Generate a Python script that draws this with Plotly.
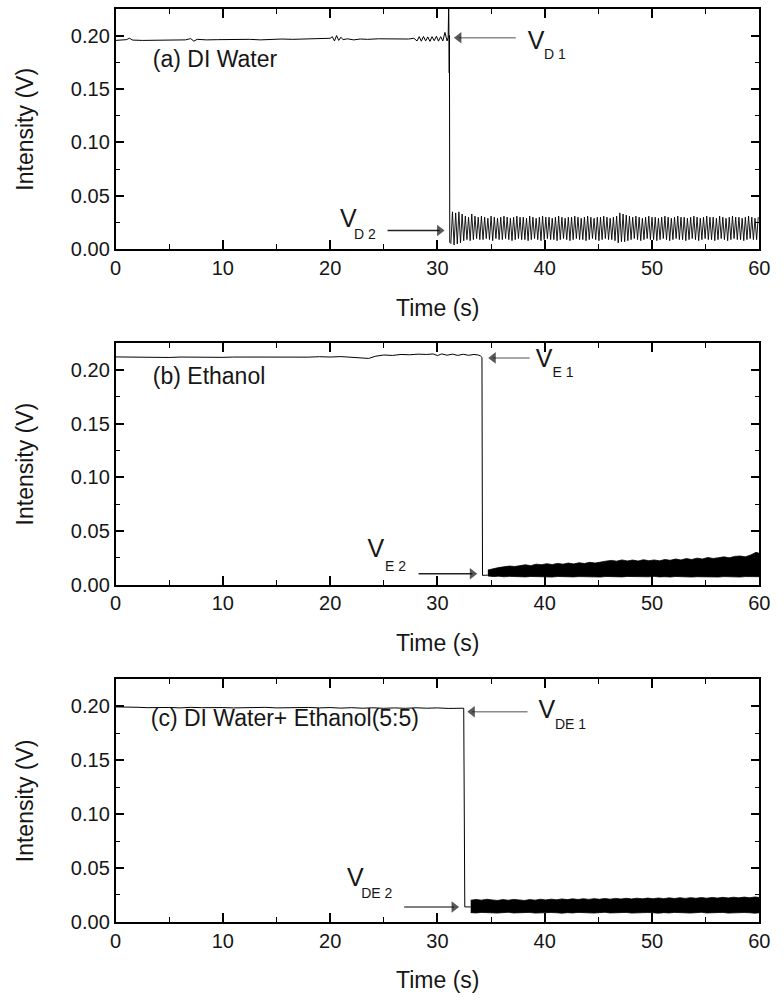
import plotly.graph_objects as go

# ---------------- data ----------------
# (a) DI Water : baseline before the drop
a_base_t = [0, 0.5, 1.0, 1.3, 1.6, 2.5, 3.5, 4.5, 5.5, 6.5, 7.0, 7.3, 7.6, 8.5, 9.5,
            10.5, 11.5, 12.5, 13.5, 14.5, 15.5, 16.5, 17.5, 18.5, 19.5, 20.0, 20.2,
            20.4, 20.6, 20.8, 21.0, 21.2, 21.6, 22.2, 22.8, 23.5, 24.5, 25.5, 26.5,
            27.3, 27.8, 28.1, 28.3, 28.5, 28.7, 28.9, 29.1, 29.3, 29.5, 29.7, 29.9,
            30.1, 30.3, 30.5, 30.7, 30.9, 31.0, 31.05, 31.1, 31.12, 31.15]
a_base_v = [0.1955, 0.1958, 0.1962, 0.1975, 0.1958, 0.1955, 0.1957, 0.1955, 0.1958,
            0.1960, 0.1972, 0.1948, 0.1965, 0.1960, 0.1962, 0.1965, 0.1962, 0.1965,
            0.1960, 0.1965, 0.1968, 0.1965, 0.1968, 0.1966, 0.1968, 0.1975, 0.1990,
            0.1950, 0.2000, 0.1955, 0.1985, 0.1962, 0.1970, 0.1960, 0.1968, 0.1965,
            0.1970, 0.1968, 0.1970, 0.1968, 0.1975, 0.1950, 0.1990, 0.1948, 0.1992,
            0.1950, 0.1988, 0.1946, 0.1990, 0.1952, 0.1994, 0.1948, 0.1990, 0.1950,
            0.2030, 0.1950, 0.1985, 0.2300, 0.1650, 0.2000, 0.0060]
# (a) oscillation after the drop: successive troughs and peaks
a_osc_low = [0.005, 0.004, 0.005, 0.006, 0.008, 0.009, 0.008, 0.009, 0.010, 0.009,
             0.009, 0.010, 0.009, 0.008, 0.010, 0.009, 0.009, 0.010, 0.009, 0.008,
             0.009, 0.010, 0.009, 0.009, 0.008, 0.009, 0.010, 0.009, 0.008, 0.009,
             0.010, 0.009, 0.009, 0.008, 0.009, 0.010, 0.009, 0.008, 0.009, 0.010,
             0.009, 0.009, 0.008, 0.009, 0.010, 0.009, 0.008, 0.009, 0.010, 0.009,
             0.009, 0.008, 0.006, 0.007, 0.007, 0.008, 0.009, 0.010, 0.009, 0.008,
             0.009, 0.010, 0.009, 0.009, 0.008, 0.009, 0.010, 0.009, 0.008, 0.009,
             0.010, 0.009, 0.009, 0.008, 0.009, 0.010, 0.009, 0.008, 0.009, 0.010,
             0.009, 0.009, 0.008, 0.009, 0.010, 0.009, 0.008, 0.009, 0.010, 0.009,
             0.009, 0.008, 0.009, 0.010, 0.009, 0.009]
a_osc_high = [0.035, 0.034, 0.035, 0.033, 0.031, 0.030, 0.033, 0.031, 0.030, 0.031,
              0.030, 0.029, 0.031, 0.030, 0.029, 0.030, 0.031, 0.030, 0.029, 0.030,
              0.031, 0.030, 0.030, 0.029, 0.031, 0.030, 0.029, 0.030, 0.031, 0.030,
              0.030, 0.029, 0.030, 0.031, 0.030, 0.029, 0.030, 0.030, 0.031, 0.030,
              0.029, 0.030, 0.031, 0.030, 0.029, 0.030, 0.030, 0.031, 0.030, 0.029,
              0.030, 0.031, 0.034, 0.033, 0.032, 0.031, 0.030, 0.031, 0.030, 0.029,
              0.030, 0.031, 0.030, 0.030, 0.029, 0.030, 0.031, 0.030, 0.029, 0.030,
              0.031, 0.030, 0.030, 0.029, 0.030, 0.031, 0.030, 0.029, 0.030, 0.031,
              0.030, 0.030, 0.029, 0.031, 0.030, 0.029, 0.030, 0.031, 0.030, 0.030,
              0.029, 0.030, 0.031, 0.030, 0.029, 0.030]

# (b) Ethanol
b_base_t = [0, 1, 2, 3, 4, 5, 6, 7, 8, 9, 10, 11, 12, 13, 14, 15, 16, 17, 18, 19, 20,
            21, 22, 23, 23.6, 24.2, 25, 25.8, 26.6, 27.4, 28.2, 29, 29.6, 30.0, 30.4,
            30.9, 31.4, 31.9, 32.4, 32.9, 33.4, 33.8, 34.0, 34.15, 34.2, 34.7]
b_base_v = [0.2122, 0.2120, 0.2118, 0.2122, 0.2120, 0.2117, 0.2121, 0.2119, 0.2122,
            0.2120, 0.2118, 0.2121, 0.2120, 0.2123, 0.2119, 0.2121, 0.2118, 0.2122,
            0.2120, 0.2124, 0.2121, 0.2125, 0.2118, 0.2112, 0.2108, 0.2128, 0.2140,
            0.2136, 0.2145, 0.2142, 0.2148, 0.2145, 0.2150, 0.2135, 0.2150, 0.2138,
            0.2148, 0.2136, 0.2147, 0.2137, 0.2145, 0.2140, 0.2132, 0.2118, 0.0085,
            0.0088]
b_band_high = [0.0135, 0.0150, 0.0158, 0.0165, 0.0172, 0.0168, 0.0178, 0.0184, 0.0176,
               0.0190, 0.0185, 0.0194, 0.0186, 0.0197, 0.0190, 0.0200, 0.0192, 0.0203,
               0.0196, 0.0207, 0.0200, 0.0212, 0.0218, 0.0225, 0.0218, 0.0229, 0.0220,
               0.0228, 0.0219, 0.0231, 0.0222, 0.0229, 0.0221, 0.0233, 0.0226, 0.0238,
               0.0229, 0.0242, 0.0233, 0.0246, 0.0238, 0.0252, 0.0243, 0.0250, 0.0258,
               0.0249, 0.0262, 0.0266, 0.0258, 0.0275, 0.0300, 0.0285]
b_band_low = [0.0080, 0.0074, 0.0078, 0.0072, 0.0076, 0.0073, 0.0077, 0.0071, 0.0075,
              0.0072, 0.0076, 0.0073, 0.0070, 0.0075, 0.0072, 0.0076, 0.0071, 0.0074,
              0.0072, 0.0076, 0.0073, 0.0070, 0.0075, 0.0072, 0.0074, 0.0071, 0.0075,
              0.0073, 0.0070, 0.0074, 0.0072, 0.0076, 0.0071, 0.0073, 0.0070, 0.0075,
              0.0072, 0.0074, 0.0070, 0.0073, 0.0071, 0.0075, 0.0072, 0.0070, 0.0074,
              0.0071, 0.0073, 0.0070, 0.0074, 0.0072, 0.0070, 0.0073]

# (c) DI Water + Ethanol (5:5)
c_base_t = [0, 1, 2, 3, 4, 5, 6, 7, 8, 9, 10, 11, 12, 13, 14, 15, 16, 17, 18, 19, 20,
            21, 22, 23, 24, 25, 26, 27, 28, 29, 30, 31, 32, 32.45, 32.55, 33.1]
c_base_v = [0.1995, 0.1990, 0.1992, 0.1988, 0.1992, 0.1990, 0.1986, 0.1991, 0.1988,
            0.1992, 0.1989, 0.1986, 0.1990, 0.1987, 0.1991, 0.1986, 0.1989, 0.1985,
            0.1990, 0.1986, 0.1989, 0.1984, 0.1988, 0.1983, 0.1987, 0.1982, 0.1986,
            0.1982, 0.1987, 0.1983, 0.1986, 0.1981, 0.1985, 0.1983, 0.0138, 0.0138]
c_band_high = [0.0200, 0.0207, 0.0201, 0.0209, 0.0203, 0.0198, 0.0206, 0.0200, 0.0208,
               0.0202, 0.0198, 0.0206, 0.0201, 0.0209, 0.0203, 0.0210, 0.0204, 0.0212,
               0.0206, 0.0213, 0.0207, 0.0214, 0.0208, 0.0215, 0.0209, 0.0216, 0.0210,
               0.0217, 0.0211, 0.0218, 0.0212, 0.0219, 0.0213, 0.0220, 0.0214, 0.0221,
               0.0215, 0.0222, 0.0216, 0.0223, 0.0217, 0.0224, 0.0218, 0.0225, 0.0219,
               0.0226, 0.0220, 0.0227, 0.0221, 0.0228, 0.0222, 0.0229, 0.0223, 0.0230,
               0.0224]
c_band_low = [0.0085, 0.0082, 0.0087, 0.0083, 0.0086, 0.0081, 0.0085, 0.0088, 0.0082,
              0.0086, 0.0083, 0.0087, 0.0081, 0.0085, 0.0082, 0.0086, 0.0084, 0.0080,
              0.0085, 0.0082, 0.0087, 0.0083, 0.0086, 0.0081, 0.0085, 0.0088, 0.0082,
              0.0086, 0.0083, 0.0087, 0.0081, 0.0085, 0.0082, 0.0086, 0.0084, 0.0080,
              0.0085, 0.0082, 0.0087, 0.0083, 0.0086, 0.0081, 0.0085, 0.0088, 0.0082,
              0.0086, 0.0083, 0.0087, 0.0081, 0.0085, 0.0082, 0.0086, 0.0084, 0.0080,
              0.0085]

panel_labels = ["(a) DI Water", "(b) Ethanol", "(c) DI Water+ Ethanol(5:5)"]
sub_labels = [("D 1", "D 2"), ("E 1", "E 2"), ("DE 1", "DE 2")]

# ---------------- styling / placement ----------------
W, H = 784, 1003
FONT = "Liberation Sans, Arial, sans-serif"
TXT = "#161616"
X0, X1 = 112, 770
PANELS = [(9, 252), (347, 591), (687, 932)]  # top / bottom pixel rows

# label placement per panel (axis units): panel label, V1, sub1, V2, sub2
label_pos = [
    dict(panel=(3.47, 0.176), v1=(39.2, 0.1935), s1=(40.95, 0.1815),
         v2=(21.7, 0.0268), s2=(23.25, 0.0130)),
    dict(panel=(3.47, 0.1927), v1=(39.95, 0.2084), s1=(41.7, 0.1964),
         v2=(24.25, 0.0313), s2=(26.1, 0.0157)),
    dict(panel=(3.28, 0.1873), v1=(40.2, 0.1947), s1=(42.4, 0.1818),
         v2=(22.35, 0.0386), s2=(24.35, 0.0257)),
]
# arrows per panel: (tail t, head t, value, shaft colour, head symbol)
arrow_pos = [
    [(37.3, 32.0, 0.198, "#8a8a8a", "triangle-left"),
     (25.35, 30.2, 0.0176, "#222222", "triangle-right")],
    [(38.6, 35.2, 0.2113, "#8a8a8a", "triangle-left"),
     (28.24, 33.25, 0.0101, "#222222", "triangle-right")],
    [(38.4, 33.25, 0.195, "#8a8a8a", "triangle-left"),
     (26.9, 31.55, 0.0138, "#555555", "triangle-right")],
]


def px(x):
    return x / W


def py(y):
    return 1 - y / H


fig = go.Figure()

# interleave trough / peak values of panel (a)
a_osc = []
for lo, hi in zip(a_osc_low, a_osc_high):
    a_osc += [lo, hi]

line = dict(color="black", width=1)
fig.add_trace(go.Scatter(x=a_base_t, y=a_base_v, mode="lines", line=line,
                         xaxis="x", yaxis="y"))
fig.add_trace(go.Scatter(x0=31.25, dx=0.15, y=a_osc, mode="lines",
                         line=dict(color="black", width=0.9), xaxis="x", yaxis="y"))

fig.add_trace(go.Scatter(x=b_base_t, y=b_base_v, mode="lines", line=line,
                         xaxis="x2", yaxis="y2"))
fig.add_trace(go.Scatter(x0=34.7, dx=0.5, y=b_band_low, mode="lines",
                         line=dict(color="black", width=0.8), xaxis="x2", yaxis="y2"))
fig.add_trace(go.Scatter(x0=34.7, dx=0.5, y=b_band_high, mode="lines",
                         line=dict(color="black", width=0.8), fill="tonexty",
                         fillcolor="black", xaxis="x2", yaxis="y2"))

fig.add_trace(go.Scatter(x=c_base_t, y=c_base_v, mode="lines", line=line,
                         xaxis="x3", yaxis="y3"))
fig.add_trace(go.Scatter(x0=33.1, dx=0.5, y=c_band_low, mode="lines",
                         line=dict(color="black", width=0.8), xaxis="x3", yaxis="y3"))
fig.add_trace(go.Scatter(x0=33.1, dx=0.5, y=c_band_high, mode="lines",
                         line=dict(color="black", width=0.8), fill="tonexty",
                         fillcolor="black", xaxis="x3", yaxis="y3"))

# labels and arrows drawn as traces on each subplot
for i in range(3):
    s = "" if i == 0 else str(i + 1)
    xa, ya = "x" + s, "y" + s
    lp = label_pos[i]
    fig.add_trace(go.Scatter(x=[lp["panel"][0]], y=[lp["panel"][1]], mode="text",
                             text=[panel_labels[i]], textposition="middle right",
                             textfont=dict(family=FONT, size=23, color=TXT),
                             hoverinfo="skip", xaxis=xa, yaxis=ya))
    fig.add_trace(go.Scatter(x=[lp["v1"][0], lp["v2"][0]],
                             y=[lp["v1"][1], lp["v2"][1]], mode="text",
                             text=["V", "V"], textposition="middle center",
                             textfont=dict(family=FONT, size=25, color=TXT),
                             hoverinfo="skip", xaxis=xa, yaxis=ya))
    fig.add_trace(go.Scatter(x=[lp["s1"][0], lp["s2"][0]],
                             y=[lp["s1"][1], lp["s2"][1]], mode="text",
                             text=list(sub_labels[i]), textposition="middle center",
                             textfont=dict(family=FONT, size=14, color=TXT),
                             hoverinfo="skip", xaxis=xa, yaxis=ya))
    for tail, head, v, col, sym in arrow_pos[i]:
        fig.add_trace(go.Scatter(x=[tail, head], y=[v, v], mode="lines+markers",
                                 line=dict(color=col, width=1.5),
                                 marker=dict(symbol=sym, size=[0, 10], color="#111111",
                                             line=dict(width=0)),
                                 hoverinfo="skip", xaxis=xa, yaxis=ya))

layout = dict(
    width=W, height=H, margin=dict(l=0, r=0, t=0, b=0),
    paper_bgcolor="white", plot_bgcolor="white", showlegend=False,
    font=dict(family=FONT, color=TXT),
)

annotations = []
for i, (top, bot) in enumerate(PANELS):
    s = "" if i == 0 else str(i + 1)
    common = dict(showline=True, linecolor="black", linewidth=1.6, mirror="ticks",
                  ticks="inside", ticklen=9, tickwidth=1.5, tickcolor="black",
                  showgrid=False, zeroline=False, tickmode="linear",
                  tickfont=dict(family=FONT, size=20, color=TXT))
    layout["xaxis" + s] = dict(common, domain=[px(X0), px(X1)], anchor="y" + s,
                               range=[0, 60], tick0=0, dtick=10,
                               minor=dict(dtick=5, ticks="inside", ticklen=5,
                                          tickwidth=1.3, tickcolor="black",
                                          showgrid=False))
    layout["yaxis" + s] = dict(common, domain=[py(bot), py(top)], anchor="x" + s,
                               range=[0, 0.225], tick0=0, dtick=0.05, tickformat=".2f",
                               minor=dict(dtick=0.025, ticks="inside", ticklen=5,
                                          tickwidth=1.3, tickcolor="black",
                                          showgrid=False))
    annotations.append(dict(xref="paper", yref="paper", x=px((X0 + X1) / 2),
                            y=py(bot + 59), text="Time (s)", showarrow=False,
                            font=dict(size=23, family=FONT, color=TXT),
                            xanchor="center", yanchor="middle"))
    annotations.append(dict(xref="paper", yref="paper", x=px(19),
                            y=py((top + bot) / 2), text="Intensity (V)",
                            textangle=-90, showarrow=False,
                            font=dict(size=23, family=FONT, color=TXT),
                            xanchor="center", yanchor="middle"))

layout["annotations"] = annotations
fig.update_layout(**layout)
fig.write_html("out.html")
